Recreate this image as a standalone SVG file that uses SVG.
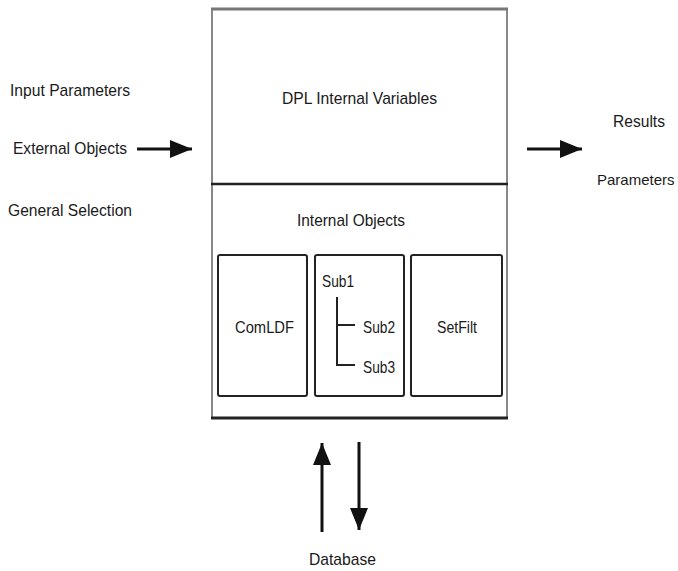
<svg xmlns="http://www.w3.org/2000/svg" width="678" height="571" viewBox="0 0 678 571">
<style>
text{font-family:"Liberation Sans",Arial,sans-serif;font-size:17px;fill:#1a1a1a}
.box{fill:#fff;stroke:#222;stroke-width:2}
.arr{stroke:#111;stroke-width:3;fill:none}
</style>
<defs>
<marker id="ah" markerUnits="userSpaceOnUse" markerWidth="24" markerHeight="20" refX="22" refY="10" orient="auto">
<path d="M0,1 L22,10 L0,19 Z" fill="#111"/>
</marker>
</defs>
<rect width="678" height="571" fill="#fff"/>
<g id="inputs">
<text x="10" y="96" textLength="120" lengthAdjust="spacingAndGlyphs">Input Parameters</text>
<text x="13" y="154" textLength="114" lengthAdjust="spacingAndGlyphs">External Objects</text>
<text x="8" y="216" textLength="124" lengthAdjust="spacingAndGlyphs">General Selection</text>
</g>
<g id="dpl">
<rect x="212" y="9" width="295" height="409" fill="#fff" stroke="#888" stroke-width="2"/>
<line x1="211" y1="9" x2="508" y2="9" stroke="#777" stroke-width="3"/>
<line x1="211" y1="184" x2="508" y2="184" stroke="#222" stroke-width="2.5"/>
<line x1="211" y1="418" x2="508" y2="418" stroke="#222" stroke-width="3"/>
<text x="282" y="104" textLength="155" lengthAdjust="spacingAndGlyphs">DPL Internal Variables</text>
<text x="297" y="226" textLength="108" lengthAdjust="spacingAndGlyphs">Internal Objects</text>
</g>
<g id="comldf">
<rect class="box" x="218" y="255" width="89" height="141" rx="2"/>
<text x="235" y="333" textLength="59" lengthAdjust="spacingAndGlyphs">ComLDF</text>
</g>
<g id="subs">
<rect class="box" x="315" y="255" width="89" height="141" rx="2"/>
<text x="322" y="287" textLength="32" lengthAdjust="spacingAndGlyphs">Sub1</text>
<path d="M337,297 V365 H355 M337,325 H355" stroke="#222" stroke-width="2" fill="none"/>
<text x="363" y="333" textLength="32" lengthAdjust="spacingAndGlyphs">Sub2</text>
<text x="363" y="373" textLength="32" lengthAdjust="spacingAndGlyphs">Sub3</text>
</g>
<g id="setfilt">
<rect class="box" x="411" y="255" width="91" height="141" rx="2"/>
<text x="437" y="333" textLength="40" lengthAdjust="spacingAndGlyphs">SetFilt</text>
</g>
<g id="outputs">
<text x="613" y="127" textLength="52" lengthAdjust="spacingAndGlyphs">Results</text>
<text x="597" y="185" style="font-size:15px">Parameters</text>
</g>
<g id="database">
<text x="309" y="565" textLength="67" lengthAdjust="spacingAndGlyphs">Database</text>
</g>
<g id="connectors">
<line class="arr" x1="137" y1="149" x2="192" y2="149" marker-end="url(#ah)"/>
<line class="arr" x1="527" y1="149" x2="582" y2="149" marker-end="url(#ah)"/>
<line class="arr" x1="322" y1="532" x2="322" y2="443" marker-end="url(#ah)"/>
<line class="arr" x1="359" y1="442" x2="359" y2="530" marker-end="url(#ah)"/>
</g>
</svg>
